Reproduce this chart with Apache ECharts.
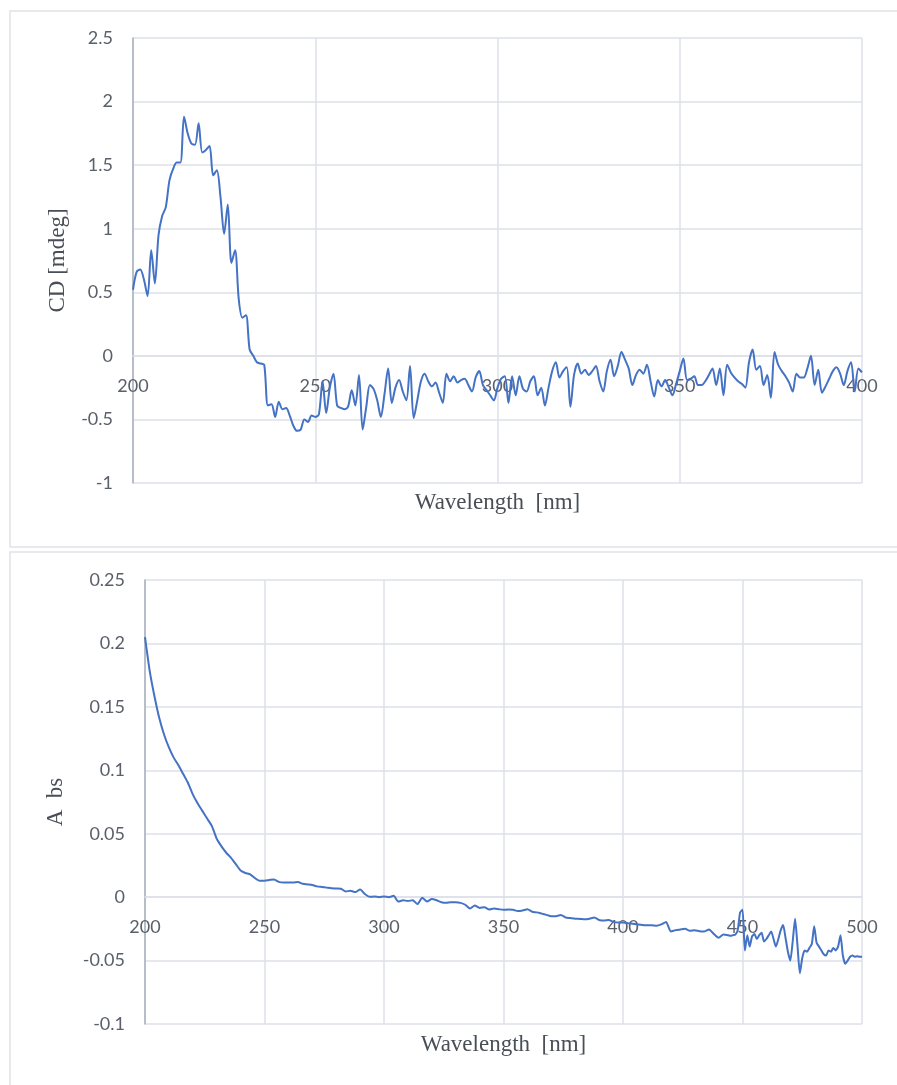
<!DOCTYPE html>
<html><head><meta charset="utf-8">
<script src="https://cdn.jsdelivr.net/npm/echarts@6/dist/echarts.min.js"></script>
<style>html,body{margin:0;padding:0;background:#fff}#c{width:897px;height:1085px}</style>
</head><body><div id="c"></div>
<script>
// ---- CD spectrum (1 nm steps, 200..400 nm) ----
const cdStartNm = 200;
const cdValues = [
 0.52,0.66,0.68,0.60,0.47,0.83,0.57,0.95,1.10,1.17,
 1.38,1.47,1.52,1.52,1.88,1.75,1.67,1.66,1.83,1.60,
 1.62,1.65,1.42,1.46,1.25,0.96,1.19,0.73,0.83,0.45,
 0.30,0.32,0.05,0.00,-0.05,-0.06,-0.07,-0.39,-0.38,-0.48,
 -0.36,-0.42,-0.41,-0.47,-0.55,-0.59,-0.58,-0.50,-0.52,-0.47,
 -0.48,-0.46,-0.20,-0.45,-0.25,-0.14,-0.39,-0.41,-0.42,-0.40,
 -0.27,-0.39,-0.15,-0.58,-0.40,-0.23,-0.26,-0.35,-0.48,-0.30,
 -0.10,-0.37,-0.25,-0.19,-0.28,-0.35,-0.08,-0.49,-0.35,-0.20,
 -0.14,-0.20,-0.24,-0.21,-0.29,-0.37,-0.14,-0.20,-0.16,-0.21,
 -0.19,-0.18,-0.23,-0.28,-0.17,-0.12,-0.23,-0.27,-0.31,-0.35,
 -0.25,-0.18,-0.16,-0.37,-0.16,-0.31,-0.16,-0.26,-0.28,-0.20,
 -0.16,-0.31,-0.25,-0.39,-0.25,-0.12,-0.05,-0.17,-0.12,-0.09,
 -0.40,-0.15,-0.06,-0.14,-0.11,-0.15,-0.12,-0.08,-0.20,-0.28,
 -0.12,-0.03,-0.16,-0.08,0.03,-0.03,-0.10,-0.23,-0.15,-0.11,
 -0.14,-0.07,-0.20,-0.32,-0.19,-0.24,-0.19,-0.25,-0.31,-0.22,
 -0.12,-0.02,-0.19,-0.18,-0.16,-0.23,-0.23,-0.20,-0.15,-0.10,
 -0.23,-0.10,-0.31,-0.07,-0.13,-0.17,-0.20,-0.22,-0.25,-0.05,
 0.05,-0.11,-0.08,-0.23,-0.15,-0.33,0.03,-0.07,-0.12,-0.16,
 -0.21,-0.28,-0.14,-0.17,-0.17,-0.10,0.00,-0.23,-0.11,-0.29,
 -0.24,-0.18,-0.12,-0.09,-0.14,-0.23,-0.12,-0.05,-0.28,-0.10,
 -0.13
];

// ---- Absorbance spectrum ----
// 2 nm steps from 200 to 444 nm
const absCoarseStartNm = 200;
const absCoarseValues = [
 0.205,0.178,0.158,0.141,0.128,0.118,0.110,0.104,0.097,0.090,
 0.081,0.074,0.068,0.062,0.056,0.046,0.040,0.035,0.031,0.026,
 0.021,0.019,0.018,0.015,0.013,0.013,0.0135,0.014,0.012,0.0115,
 0.0115,0.0115,0.012,0.0105,0.0100,0.0095,0.0085,0.0080,0.0075,0.0070,
 0.0068,0.0066,0.0045,0.0050,0.0040,0.0060,0.0025,0.0003,0.0005,0.0000,
 0.0005,0.0000,0.0010,-0.0035,-0.0025,-0.0030,-0.0025,-0.0055,-0.0005,-0.0035,
 -0.0015,-0.0025,-0.0040,-0.0045,-0.0040,-0.0040,-0.0045,-0.0060,-0.0090,-0.0065,
 -0.0085,-0.0080,-0.0098,-0.0090,-0.0095,-0.0100,-0.0098,-0.0100,-0.0110,-0.0105,
 -0.0095,-0.0115,-0.0120,-0.0130,-0.0140,-0.0150,-0.0150,-0.0140,-0.0160,-0.0165,
 -0.0170,-0.0172,-0.0175,-0.0170,-0.0160,-0.0180,-0.0185,-0.0180,-0.0195,-0.0200,
 -0.0200,-0.0205,-0.0210,-0.0215,-0.0220,-0.0222,-0.0222,-0.0225,-0.0215,-0.0195,
 -0.0270,-0.0260,-0.0255,-0.0250,-0.0265,-0.0260,-0.0268,-0.0270,-0.0255,-0.0290,
 -0.0320,-0.0295,-0.0300
];
// 1 nm steps from 445 to 500 nm
const absFineStartNm = 445;
const absFineValues = [
 -0.0305,-0.0300,-0.0295,-0.0260,-0.0120,-0.0100,-0.0420,-0.0300,-0.0390,-0.0310,
 -0.0290,-0.0330,-0.0300,-0.0280,-0.0350,-0.0330,-0.0300,-0.0270,-0.0330,-0.0390,
 -0.0330,-0.0260,-0.0220,-0.0320,-0.0430,-0.0500,-0.0350,-0.0170,-0.0380,-0.0600,
 -0.0480,-0.0420,-0.0430,-0.0400,-0.0370,-0.0230,-0.0360,-0.0390,-0.0420,-0.0450,
 -0.0460,-0.0420,-0.0430,-0.0400,-0.0420,-0.0390,-0.0300,-0.0460,-0.0525,-0.0500,
 -0.0470,-0.0460,-0.0470,-0.0465,-0.0470,-0.0470
];

// axis tick settings
const cdXTicks = {min:200, max:400, interval:50};
const cdYTicks = {min:-1, max:2.5, interval:0.5};
const absXTicks = {min:200, max:500, interval:50};
const absYTicks = {min:-0.1, max:0.25, interval:0.05};
const xTitle = 'Wavelength  [nm]';
const cdYTitle = 'CD [mdeg]';
const absYTitle = 'A  bs';

const cdData = cdValues.map((v,i)=>[cdStartNm+i, v]);
const absData = absCoarseValues.map((v,i)=>[absCoarseStartNm+2*i, v])
  .concat(absFineValues.map((v,i)=>[absFineStartNm+i, v]));

const gridColor = '#dde1e7';
const labelColor = '#5a606a';
const titleColor = '#4a4f57';
const lineColor = '#4472c4';
const numFont = 'Lato';
const serif = '"Liberation Serif", "Times New Roman", serif';

// x axis drawn across the zero line of its value axis (offset up from bottom)
function xAxis(gridIndex, t, zeroOffset, gap){
  return {type:'value', gridIndex, min:t.min, max:t.max, interval:t.interval,
    position:'bottom', offset:-zeroOffset,
    axisLine:{show:true, onZero:false, lineStyle:{color:gridColor, width:1.5}},
    axisTick:{show:false},
    axisLabel:{color:labelColor, fontSize:18, fontFamily:numFont, margin:21},
    splitLine:{show:true, lineStyle:{color:gridColor, width:1.5}},
    name:xTitle, nameLocation:'middle', nameGap:gap,
    nameTextStyle:{color:titleColor, fontSize:23, fontFamily:serif}};
}
function yAxis(gridIndex, t, name, gap){
  return {type:'value', gridIndex, min:t.min, max:t.max, interval:t.interval,
    axisLine:{show:true, lineStyle:{color:'#a9b1bd', width:1.5}},
    axisTick:{show:false},
    axisLabel:{color:labelColor, fontSize:18, fontFamily:numFont, margin:20},
    splitLine:{show:true, lineStyle:{color:gridColor, width:1.5}},
    name:name, nameLocation:'middle', nameGap:gap, nameRotate:90,
    nameTextStyle:{color:titleColor, fontSize:23, fontFamily:serif}};
}

const chart = echarts.init(document.getElementById('c'), null, {renderer:'canvas'});
chart.setOption({
  backgroundColor:'#ffffff',
  animation:false,
  graphic:[
    {type:'rect', shape:{x:10, y:11, width:900, height:536}, style:{fill:null, stroke:'#dfe2e6', lineWidth:1.5}, z:-1},
    {type:'rect', shape:{x:10, y:552, width:900, height:545}, style:{fill:null, stroke:'#dfe2e6', lineWidth:1.5}, z:-1}
  ],
  grid:[
    {left:133, top:38, width:729, height:445},
    {left:145, top:580, width:717, height:444}
  ],
  xAxis:[ xAxis(0, cdXTicks, 127, 135), xAxis(1, absXTicks, 127, 136) ],
  yAxis:[ yAxis(0, cdYTicks, cdYTitle, 64), yAxis(1, absYTicks, absYTitle, 78) ],
  series:[
    {type:'line', xAxisIndex:0, yAxisIndex:0, data:cdData, showSymbol:false, smooth:0.3,
     lineStyle:{color:lineColor, width:2}, z:3},
    {type:'line', xAxisIndex:1, yAxisIndex:1, data:absData, showSymbol:false, smooth:0.2,
     lineStyle:{color:lineColor, width:2}, z:3}
  ]
});
</script>
</body></html>
